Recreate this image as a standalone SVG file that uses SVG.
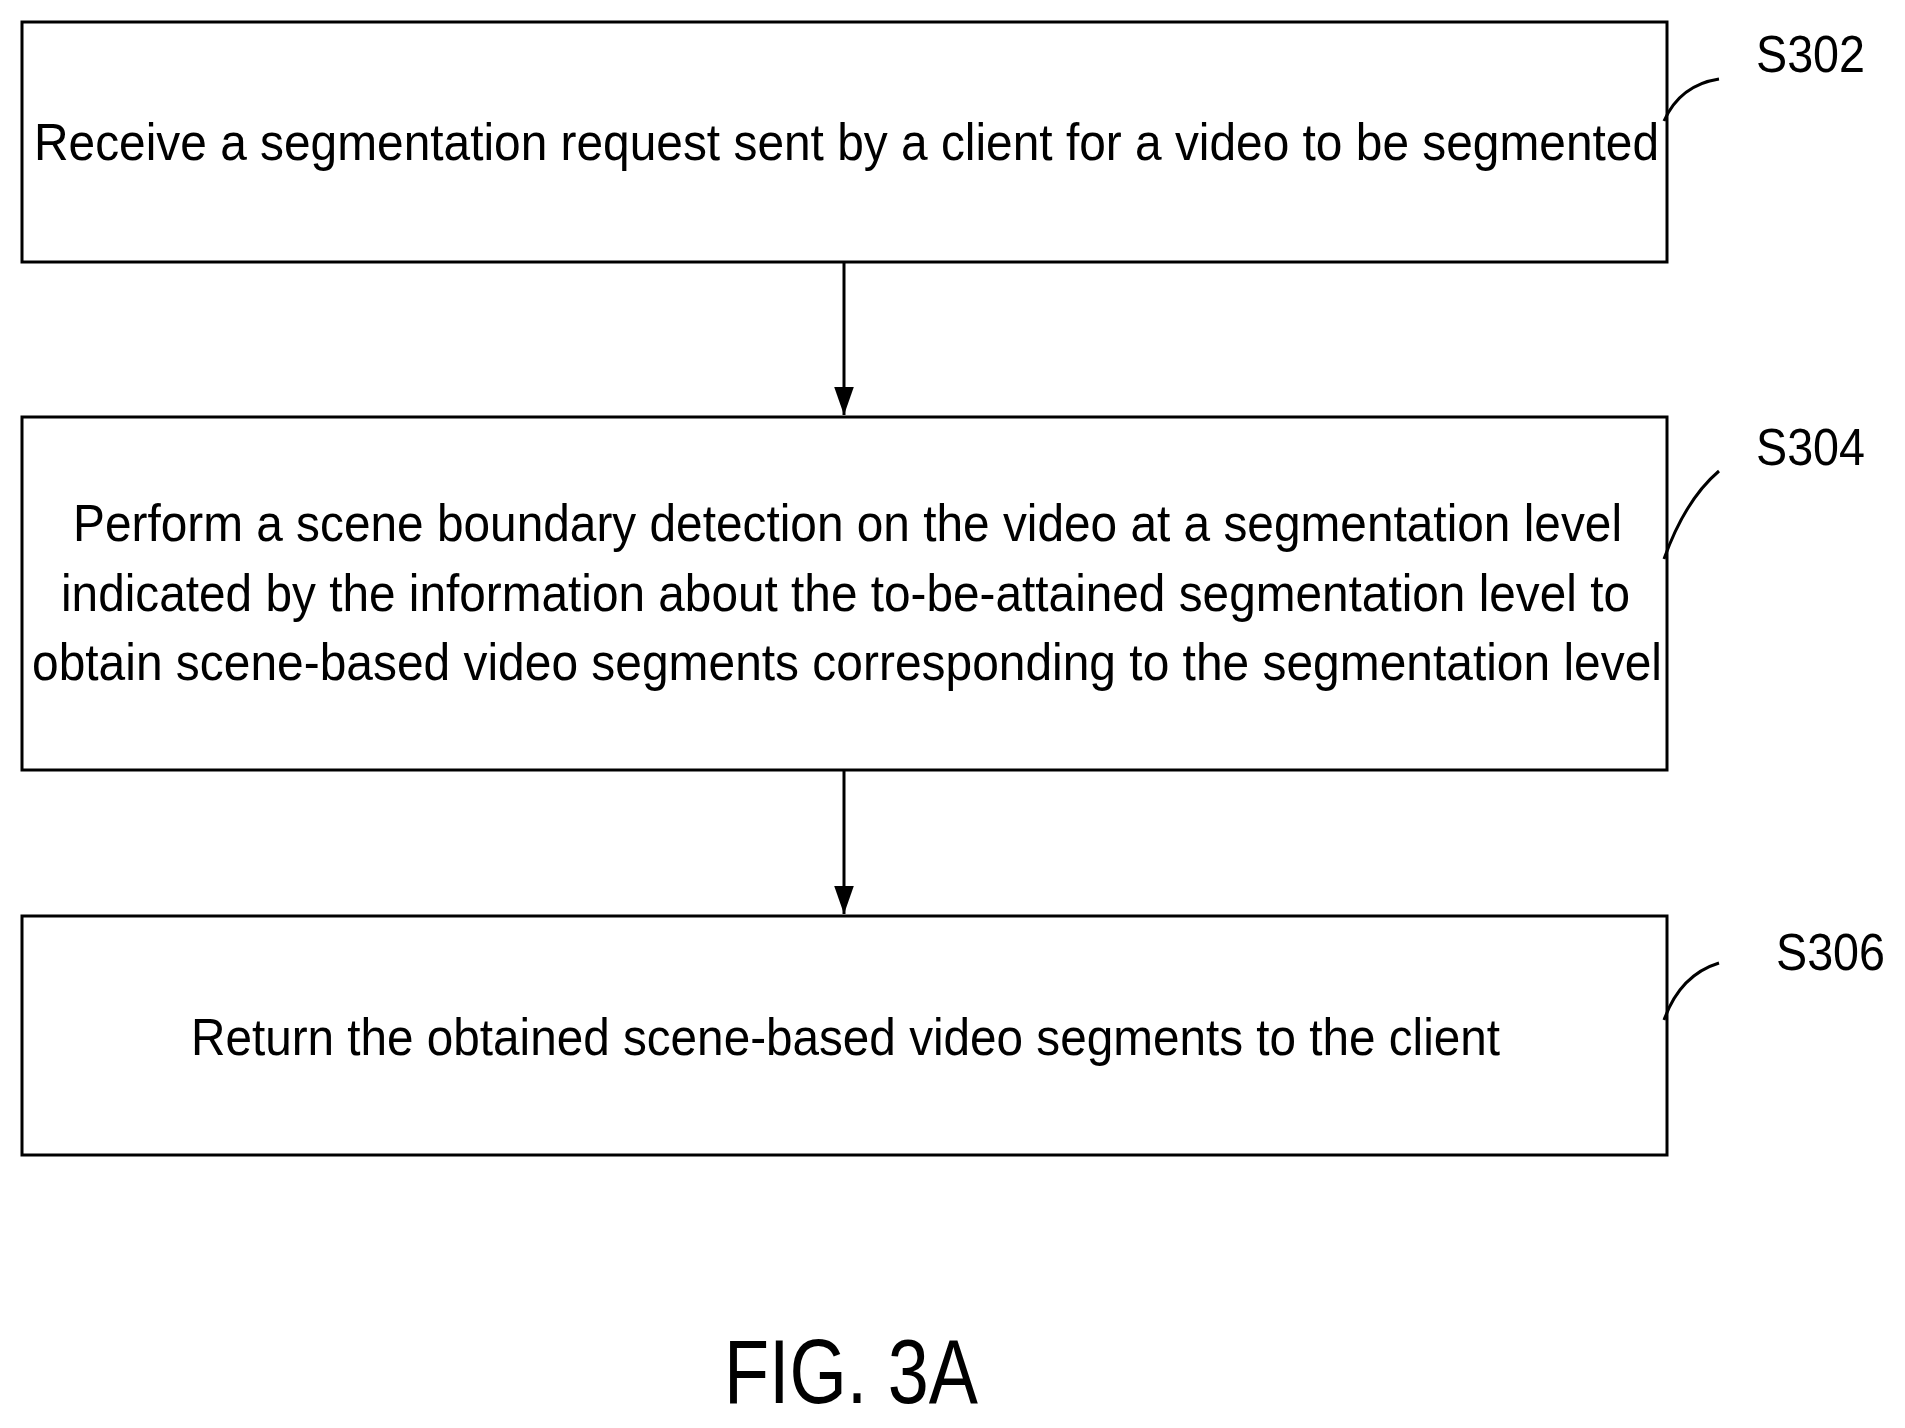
<svg xmlns="http://www.w3.org/2000/svg" width="1905" height="1428" viewBox="0 0 1905 1428">
<style>
.b{fill:#fff;stroke:#000;stroke-width:3}
.t{font-family:"Liberation Sans",Arial,sans-serif;font-size:52px;fill:#000}
.c{fill:none;stroke:#000;stroke-width:3}
</style>
<defs><marker id="a" markerWidth="10" markerHeight="10" refX="9" refY="5" orient="auto" markerUnits="userSpaceOnUse" viewBox="0 0 10 10"><path d="M0,0 L10,5 L0,10 z"/></marker>
<marker id="ah" markerWidth="28" markerHeight="40" refX="40" refY="14" orient="auto" markerUnits="userSpaceOnUse" viewBox="0 0 40 28"><path d="M0,0 L40,14 L0,28 z"/></marker></defs>
<rect width="1905" height="1428" fill="#fff"/>
<g id="s302"><rect class="b" x="22" y="22" width="1645" height="240"/>
<text class="t" x="34" y="160" textLength="1625" lengthAdjust="spacingAndGlyphs">Receive a segmentation request sent by a client for a video to be segmented</text>
<path class="c" d="M1664,121 Q1680,85 1719,79"/>
<text class="t" x="1756" y="72" textLength="109" lengthAdjust="spacingAndGlyphs">S302</text></g>
<g id="s304"><rect class="b" x="22" y="417" width="1645" height="353"/>
<text class="t" x="73" y="541" textLength="1549" lengthAdjust="spacingAndGlyphs">Perform a scene boundary detection on the video at a segmentation level</text>
<text class="t" x="61" y="611" textLength="1569" lengthAdjust="spacingAndGlyphs">indicated by the information about the to-be-attained segmentation level to</text>
<text class="t" x="32" y="680" textLength="1630" lengthAdjust="spacingAndGlyphs">obtain scene-based video segments corresponding to the segmentation level</text>
<path class="c" d="M1664,559 Q1685,500 1719,471"/>
<text class="t" x="1756" y="465" textLength="109" lengthAdjust="spacingAndGlyphs">S304</text></g>
<g id="s306"><rect class="b" x="22" y="916" width="1645" height="239"/>
<text class="t" x="191" y="1055" textLength="1309" lengthAdjust="spacingAndGlyphs">Return the obtained scene-based video segments to the client</text>
<path class="c" d="M1664,1020 Q1680,975 1719,963"/>
<text class="t" x="1776" y="970" textLength="109" lengthAdjust="spacingAndGlyphs">S306</text></g>
<g id="connectors">
<line x1="844" y1="262" x2="844" y2="415" stroke="#000" stroke-width="3" marker-end="url(#ah)"/>
<line x1="844" y1="770" x2="844" y2="914" stroke="#000" stroke-width="3" marker-end="url(#ah)"/>
</g>
<text class="t" x="724" y="1403" style="font-size:90px" textLength="254" lengthAdjust="spacingAndGlyphs">FIG. 3A</text>
</svg>
